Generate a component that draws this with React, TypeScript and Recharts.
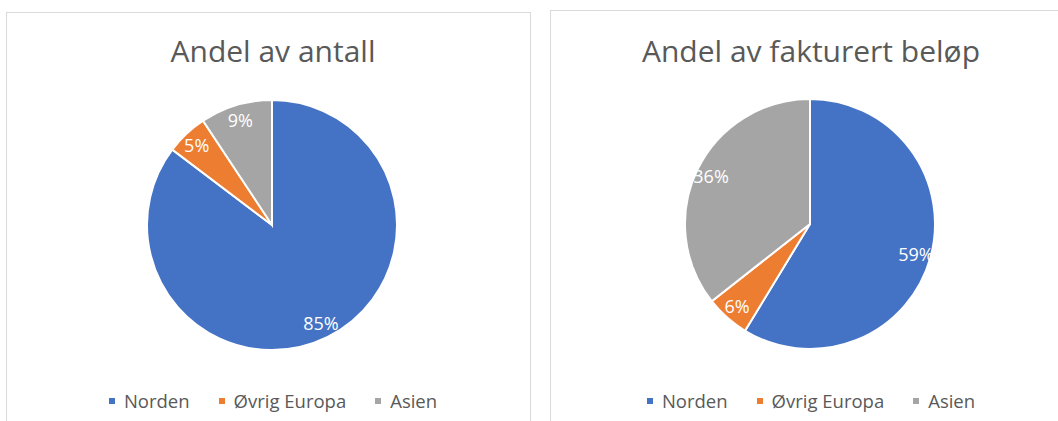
import React from "react";
import { PieChart, Pie, Cell } from "recharts";

const categories = ["Norden", "Øvrig Europa", "Asien"];
const colors = ["#4472C4", "#ED7D31", "#A5A5A5"];
const antallValues = [85.3, 5.4, 9.3];
const belopValues = [58.7, 5.7, 35.6];
const titles = ["Andel av antall", "Andel av fakturert beløp"];

const FONT = "'Open Sans', 'DejaVu Sans', sans-serif";
const RAD = Math.PI / 180;

type PanelProps = {
  title: string;
  values: number[];
  left: number;
  top: number;
  width: number;
  cx: number;
  cy: number;
};

const renderLabel = (props: any) => {
  const { cx, cy, midAngle, outerRadius, percent } = props;
  const r = outerRadius * 0.88;
  const x = cx + r * Math.cos(-midAngle * RAD);
  const y = cy + r * Math.sin(-midAngle * RAD);
  return (
    <text
      x={x}
      y={y}
      fill="#ffffff"
      fontSize={18}
      fontFamily={FONT}
      textAnchor="middle"
      dominantBaseline="central"
    >
      {`${Math.round(percent * 100)}%`}
    </text>
  );
};

const Panel = ({ title, values, left, top, width, cx, cy }: PanelProps) => {
  const data = categories.map((name, i) => ({ name, value: values[i] }));
  const height = 421 - top + 10;
  const pcx = cx - 6;
  const pcy = cy - 6;
  return (
    <div
      style={{
        position: "absolute",
        left,
        top,
        width,
        height,
        border: "1px solid #d9d9d9",
        boxSizing: "border-box",
        background: "#fff",
      }}
    >
      <div
        style={{
          position: "absolute",
          left: cx - 250,
          width: 500,
          top: 35 - top,
          textAlign: "center",
          fontFamily: FONT,
          fontSize: 30,
          lineHeight: "30px",
          color: "#595959",
          whiteSpace: "nowrap",
        }}
      >
        {title}
      </div>
      <div style={{ position: "absolute", left: 0, top: 0 }}>
        <PieChart width={width} height={380}>
          <Pie
            data={data}
            dataKey="value"
            nameKey="name"
            cx={pcx}
            cy={pcy}
            outerRadius={125}
            startAngle={90}
            endAngle={-270}
            stroke="#ffffff"
            strokeWidth={2}
            label={renderLabel}
            labelLine={false}
            isAnimationActive={false}
          >
            {data.map((d, i) => (
              <Cell key={d.name} fill={colors[i]} />
            ))}
          </Pie>
        </PieChart>
      </div>
      <div
        style={{
          position: "absolute",
          left: cx - 250,
          width: 500,
          top: 391 - top,
          display: "flex",
          justifyContent: "center",
          alignItems: "center",
          fontFamily: FONT,
          fontSize: 18.5,
          lineHeight: "18px",
          color: "#595959",
          whiteSpace: "nowrap",
        }}
      >
        {categories.map((c, i) => (
          <div
            key={c}
            style={{
              display: "flex",
              alignItems: "center",
              marginLeft: i === 0 ? 0 : 29,
            }}
          >
            <span
              style={{
                display: "inline-block",
                width: 6,
                height: 6,
                background: colors[i],
                marginRight: 9,
              }}
            />
            <span>{c}</span>
          </div>
        ))}
      </div>
    </div>
  );
};

export default function App() {
  return (
    <div
      style={{
        position: "absolute",
        left: 0,
        top: 0,
        width: 1058,
        height: 421,
        overflow: "hidden",
        background: "#fff",
      }}
    >
      <Panel title={titles[0]} values={antallValues} left={6} top={12} width={525} cx={266} cy={213} />
      <Panel title={titles[1]} values={belopValues} left={550} top={10} width={520} cx={260} cy={214} />
    </div>
  );
}
